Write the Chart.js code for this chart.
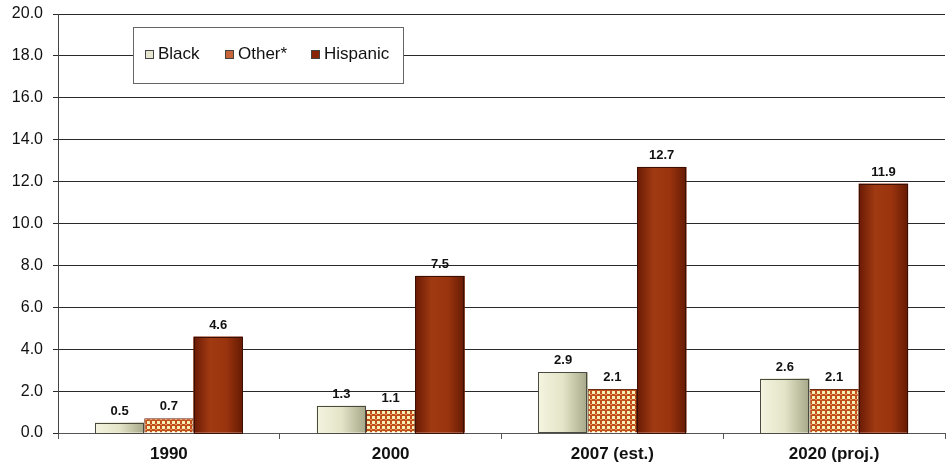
<!DOCTYPE html>
<html>
<head>
<meta charset="utf-8">
<script src="https://cdn.jsdelivr.net/npm/chart.js@4/dist/chart.umd.min.js"></script>
<style>
  html, body { margin: 0; padding: 0; background: #fff; }
  #wrap { width: 946px; height: 470px; position: relative; }
</style>
</head>
<body>
<div id="wrap"><canvas id="chart"></canvas></div>
<script>
const categories = ['1990', '2000', '2007 (est.)', '2020 (proj.)'];
const black    = [0.5, 1.3, 2.9, 2.6];
const other    = [0.7, 1.1, 2.1, 2.1];
const hispanic = [4.6, 7.5, 12.7, 11.9];
const seriesNames = ['Black', 'Other*', 'Hispanic'];

const FONT = "'Liberation Sans', Arial, sans-serif";

// checkered fill for Other*
function checkPattern() {
    const c = document.createElement('canvas');
    c.width = 5; c.height = 5;
    const g = c.getContext('2d');
    g.fillStyle = '#c24e1c';
    g.fillRect(0, 0, 5, 5);
    g.fillStyle = '#f6efb6';
    g.fillRect(2, 1, 3, 3);
    g.fillStyle = '#e39a62';
    g.fillRect(0, 4, 2, 1);
    return g.createPattern(c, 'repeat');
}

// horizontal shading for the solid bars, painted over each bar
const gradients = {
    0: ['#f4f4e0', '#e4e4c8', '#a6a688'],
    2: ['#6a1a04', '#a03a12', '#9a340e', '#661a04'],
};

const barShading = {
    id: 'barShading',
    afterDatasetDraw(chart, args) {
        const stops = gradients[args.index];
        if (!stops) return;
        const ctx = chart.ctx;
        ctx.save();
        args.meta.data.forEach(bar => {
            const x0 = bar.x - bar.width / 2, x1 = bar.x + bar.width / 2;
            const gr = ctx.createLinearGradient(x0, 0, x1, 0);
            stops.forEach((s, i) => gr.addColorStop(i / (stops.length - 1), s));
            ctx.fillStyle = gr;
            ctx.fillRect(x0, bar.y, bar.width, bar.base - bar.y);
            ctx.strokeStyle = args.index === 0 ? '#4a4a40' : '#3a1004';
            ctx.lineWidth = 1;
            ctx.strokeRect(Math.round(x0) + 0.5, Math.round(bar.y) + 0.5,
                           Math.round(bar.width) - 1, Math.round(bar.base - bar.y));
        });
        ctx.restore();
    }
};

const valueLabels = {
    id: 'valueLabels',
    afterDatasetsDraw(chart) {
        const ctx = chart.ctx;
        ctx.save();
        ctx.font = 'bold 13px ' + FONT;
        ctx.fillStyle = '#111';
        ctx.textAlign = 'center';
        ctx.textBaseline = 'bottom';
        chart.data.datasets.forEach((ds, i) => {
            chart.getDatasetMeta(i).data.forEach((bar, j) => {
                ctx.fillText(ds.data[j].toFixed(1), bar.x, bar.y - 5);
            });
        });
        ctx.restore();
    }
};

const boxLegend = {
    id: 'boxLegend',
    afterDraw(chart) {
        const ctx = chart.ctx;
        ctx.save();
        ctx.fillStyle = '#fff';
        ctx.fillRect(133.5, 27.5, 270, 56);
        ctx.strokeStyle = '#666';
        ctx.lineWidth = 1;
        ctx.strokeRect(133.5, 27.5, 270, 56);
        ctx.font = '17px ' + FONT;
        ctx.textBaseline = 'middle';
        const xs = [145, 225, 311];
        const fills = ['#e6e6d0', '#c8643a', '#8a2408'];
        chart.data.datasets.forEach((ds, i) => {
            const x = xs[i], y = 54;
            ctx.fillStyle = fills[i];
            ctx.fillRect(x, y - 4, 9, 9);
            ctx.strokeStyle = '#444';
            ctx.strokeRect(x + 0.5, y - 3.5, 8, 8);
            ctx.fillStyle = '#111';
            ctx.textAlign = 'left';
            ctx.fillText(ds.label, x + 13, y);
        });
        ctx.restore();
    }
};

new Chart(document.getElementById('chart'), {
    type: 'bar',
    data: {
        labels: categories,
        datasets: [
            { label: seriesNames[0], data: black, backgroundColor: '#e6e6d0', borderWidth: 0 },
            { label: seriesNames[1], data: other, backgroundColor: checkPattern(), borderColor: '#6a2a10', borderWidth: 1 },
            { label: seriesNames[2], data: hispanic, backgroundColor: '#8a2408', borderWidth: 0 },
        ],
    },
    options: {
        responsive: true,
        maintainAspectRatio: false,
        animation: false,
        layout: { padding: { top: 14, right: 1, bottom: 0, left: 0 } },
        categoryPercentage: 0.667,
        barPercentage: 1.0,
        plugins: {
            legend: { display: false },
            tooltip: { enabled: false },
        },
        scales: {
            x: {
                grid: { drawOnChartArea: false, drawTicks: true, tickLength: 6, color: '#555' },
                border: { color: '#555' },
                ticks: { color: '#111', font: { family: FONT, size: 17, weight: 'bold' }, padding: 5 },
                afterFit(scale) { scale.height = 37; },
            },
            y: {
                min: 0,
                max: 20,
                grid: { color: '#2a2a2a', tickLength: 5 },
                border: { color: '#444' },
                ticks: {
                    stepSize: 2,
                    color: '#111',
                    font: { family: FONT, size: 16 },
                    padding: 10,
                    callback: v => v.toFixed(1),
                },
                afterFit(scale) {
                    scale.width = 58;
                    scale.paddingTop = 0;
                    scale.paddingBottom = 0;
                },
            },
        },
    },
    plugins: [barShading, valueLabels, boxLegend],
});
</script>
</body>
</html>
